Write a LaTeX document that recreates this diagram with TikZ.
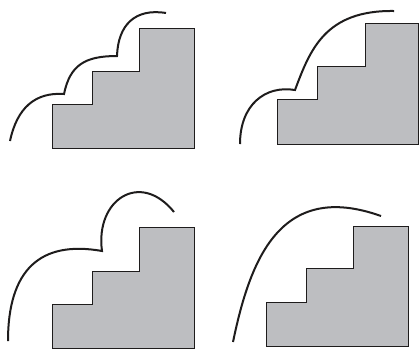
\documentclass[tikz,border=0pt]{standalone}
\definecolor{stairgray}{RGB}{189,190,193}
\definecolor{inkline}{RGB}{30,28,28}
\tikzset{
  stairs/.style={fill=stairgray,draw=inkline,line width=0.8pt,line join=miter},
  rope/.style={draw=inkline,line width=2pt,line cap=butt}
}
\begin{document}
\begin{tikzpicture}[x=1pt,y=-1pt]
\useasboundingbox (0,0) rectangle (419,349);
% panel 1
\path[stairs] (52,148) -- (52,104) -- (92,104) -- (92,71) -- (139,71) -- (139,28) -- (194,28) -- (194,148) -- cycle;
\path[rope] (10,141) .. controls (17,108) and (35,92) .. (64,94)
            .. controls (70,65) and (85,56) .. (117,56)
            .. controls (118,25) and (135,8) .. (166,13);
% panel 2
\path[stairs] (277,144) -- (277,99) -- (317,99) -- (317,66) -- (365,66) -- (365,23) -- (418.6,23) -- (418.6,144) -- cycle;
\path[rope] (240,144) .. controls (240,105) and (265,85) .. (295,90)
            .. controls (310,50) and (325,10) .. (394,11);
% panel 3
\path[stairs] (52,348.6) -- (52,304) -- (92,304) -- (92,271) -- (139,271) -- (139,227) -- (194,227) -- (194,348.6) -- cycle;
\path[rope] (8,341) .. controls (8,270) and (40,240) .. (102,251)
            .. controls (95,200) and (140,170) .. (174,212);
% panel 4
\path[stairs] (266,346) -- (266,302) -- (306,302) -- (306,268) -- (353,268) -- (353,226) -- (408,226) -- (408,346) -- cycle;
\path[rope] (233,342) .. controls (250,260) and (280,180) .. (381,216);
\end{tikzpicture}
\end{document}
